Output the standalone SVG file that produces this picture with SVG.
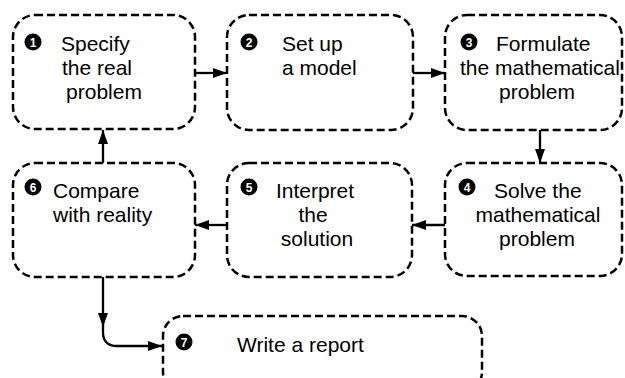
<svg xmlns="http://www.w3.org/2000/svg" width="625" height="378" viewBox="0 0 625 378">
<style>
.box{fill:none;stroke:#000;stroke-width:2.5;stroke-dasharray:8 4}
.t{font-family:"Liberation Sans",Arial,sans-serif;font-size:21px;fill:#000}
.m{text-anchor:middle}
.nc{fill:#000}
.nd{font-family:"Liberation Sans",Arial,sans-serif;font-size:12px;font-weight:bold;fill:#fff;text-anchor:middle}
.c{fill:none;stroke:#000;stroke-width:2.3}
</style>
<defs>
<marker id="ah" viewBox="0 0 14 10" refX="14" refY="5" markerWidth="14" markerHeight="10" markerUnits="userSpaceOnUse" orient="auto">
<path d="M0,0 L14,5 L0,10 Z" fill="#000"/>
</marker>
</defs>
<rect width="625" height="378" fill="#fff"/>
<g id="connectors">
<path class="c" d="M195,73 H227" marker-end="url(#ah)"/>
<path class="c" d="M413,73 H445" marker-end="url(#ah)"/>
<path class="c" d="M540,130 V163" marker-end="url(#ah)"/>
<path class="c" d="M445,225 H412" marker-end="url(#ah)"/>
<path class="c" d="M227,225 H195" marker-end="url(#ah)"/>
<path class="c" d="M103,163 V130" marker-end="url(#ah)"/>
<path class="c" d="M103,277 V327" marker-end="url(#ah)"/>
<path class="c" d="M103,326 V332 Q103,346 117,346 H162" marker-end="url(#ah)"/>
</g>
<g id="n1">
<rect class="box" x="13" y="15" width="182" height="114" rx="22"/>
<circle class="nc" cx="33" cy="42" r="8.5"/><text class="nd" x="33" y="46.5">1</text>
<text class="t" x="61" y="51">Specify</text>
<text class="t m" x="97" y="75">the real</text>
<text class="t m" x="104" y="99">problem</text>
</g>
<g id="n2">
<rect class="box" x="227" y="15" width="186" height="115" rx="22"/>
<circle class="nc" cx="249" cy="42" r="8.5"/><text class="nd" x="249" y="46.5">2</text>
<text class="t" x="282" y="51">Set up</text>
<text class="t" x="282" y="75">a model</text>
</g>
<g id="n3">
<rect class="box" x="445" y="15" width="177" height="115" rx="22"/>
<circle class="nc" cx="469" cy="42" r="8.5"/><text class="nd" x="469" y="46.5">3</text>
<text class="t" x="496" y="51">Formulate</text>
<text class="t m" x="540" y="75">the mathematical</text>
<text class="t m" x="537" y="99">problem</text>
</g>
<g id="n4">
<rect class="box" x="445" y="163" width="177" height="113" rx="22"/>
<circle class="nc" cx="467" cy="187" r="8.5"/><text class="nd" x="467" y="191.5">4</text>
<text class="t" x="494" y="198">Solve the</text>
<text class="t m" x="538" y="222">mathematical</text>
<text class="t m" x="537" y="246">problem</text>
</g>
<g id="n5">
<rect class="box" x="227" y="163" width="185" height="114" rx="22"/>
<circle class="nc" cx="249" cy="187" r="8.5"/><text class="nd" x="249" y="191.5">5</text>
<text class="t m" x="315" y="198">Interpret</text>
<text class="t m" x="313" y="222">the</text>
<text class="t m" x="317" y="246">solution</text>
</g>
<g id="n6">
<rect class="box" x="13" y="163" width="182" height="114" rx="22"/>
<circle class="nc" cx="33" cy="187" r="8.5"/><text class="nd" x="33" y="191.5">6</text>
<text class="t" x="53" y="198">Compare</text>
<text class="t" x="53" y="222">with reality</text>
</g>
<g id="n7">
<rect class="box" x="163" y="316" width="319" height="76" rx="20"/>
<circle class="nc" cx="184" cy="342" r="8.5"/><text class="nd" x="184" y="346.5">7</text>
<text class="t" x="237" y="352">Write a report</text>
</g>
</svg>
